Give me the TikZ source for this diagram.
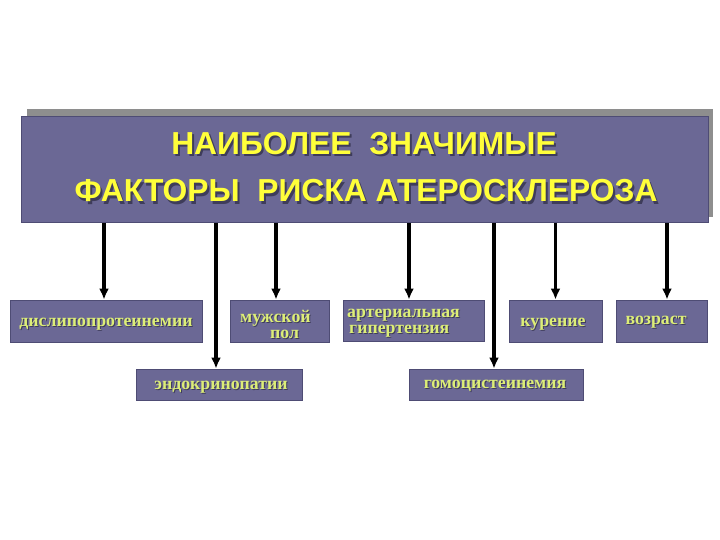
\documentclass[tikz,border=0pt]{standalone}
\usepackage{fontspec}
\setmainfont{Liberation Serif}
\newfontfamily\titlefont{Liberation Sans}
\usetikzlibrary{arrows.meta}
\definecolor{boxfill}{HTML}{6B6895}
\definecolor{boxedge}{HTML}{4E4C74}
\definecolor{titleyellow}{HTML}{FFFF3A}
\definecolor{smalltxt}{HTML}{DDEE77}
\definecolor{txtshadow}{HTML}{3E3C5A}
\definecolor{shadowgray}{HTML}{8E8E8E}
\newcommand\shd[2][1pt]{\leavevmode\rlap{\kern#1\raisebox{-#1}{\textcolor{txtshadow}{#2}}}#2}
\tikzset{
  fbox/.style={draw=boxedge, line width=0.8pt, fill=boxfill, inner sep=0pt},
  lbl/.style={anchor=base, inner sep=0pt, text=smalltxt, font=\fontsize{17.8}{18}\selectfont\bfseries},
  ttl/.style={anchor=base, inner sep=0pt, text=titleyellow, font=\titlefont\fontsize{31.8}{32}\selectfont\bfseries},
  arr/.style={line width=3.2pt, -{Latex[length=11pt,width=10pt]}},
}
\begin{document}
\begin{tikzpicture}[x=1pt,y=-1pt]
\useasboundingbox (0,0) rectangle (720,540);
% title shadow
\fill[shadowgray] (27,109) rectangle (713,217);
\node[fbox, minimum width=687pt, minimum height=106pt, anchor=north west] (title) at (21,116) {};
\node[ttl] (t1) at (364,155) {\shd[2pt]{НАИБОЛЕЕ\ \ ЗНАЧИМЫЕ}};
\node[ttl] (t2) at (366,202) {\shd[2pt]{ФАКТОРЫ\ \ РИСКА АТЕРОСКЛЕРОЗА}};
% row 1 boxes
\node[fbox, minimum width=192pt, minimum height=42pt] (b1) at (106,321) {};
\node[fbox, minimum width=99pt, minimum height=42pt] (b2) at (279.5,321) {};
\node[fbox, minimum width=141pt, minimum height=41pt] (b3) at (413.5,320.5) {};
\node[fbox, minimum width=93pt, minimum height=42pt] (b4) at (555.5,321) {};
\node[fbox, minimum width=91pt, minimum height=42pt] (b5) at (661.5,321) {};
% row 2 boxes
\node[fbox, minimum width=166pt, minimum height=31pt] (b6) at (219,384.5) {};
\node[fbox, minimum width=174pt, minimum height=31pt] (b7) at (496,384.5) {};
% labels
\node[lbl] (l1) at (106,326) {\shd{дислипопротеинемии}};
\node[lbl, anchor=base west] (l2a) at (240,322) {\shd{мужской}};
\node[lbl, anchor=base west] (l2b) at (270,338) {\shd{пол}};
\node[lbl, anchor=base west] (l3a) at (347,317) {\shd{артериальная}};
\node[lbl, anchor=base west] (l3b) at (349,333) {\shd{гипертензия}};
\node[lbl] (l4) at (553,326) {\shd{курение}};
\node[lbl] (l5) at (656,324) {\shd{возраст}};
\node[lbl] (l6) at (221,389) {\shd{эндокринопатии}};
\node[lbl] (l7) at (495,388) {\shd{гомоцистеинемия}};
% arrows
\draw[arr] ([xshift=-2pt]b1.north |- title.south) -- ([xshift=-2pt]b1.north);
\draw[arr] ([xshift=-3pt]b6.north |- title.south) -- ([xshift=-3pt]b6.north);
\draw[arr] ([xshift=-3.5pt]b2.north |- title.south) -- ([xshift=-3.5pt]b2.north);
\draw[arr] ([xshift=-4.5pt]b3.north |- title.south) -- ([xshift=-4.5pt]b3.north);
\draw[arr] ([xshift=-2pt]b7.north |- title.south) -- ([xshift=-2pt]b7.north);
\draw[arr] (b4.north |- title.south) -- (b4.north);
\draw[arr] ([xshift=5.5pt]b5.north |- title.south) -- ([xshift=5.5pt]b5.north);
\end{tikzpicture}
\end{document}
